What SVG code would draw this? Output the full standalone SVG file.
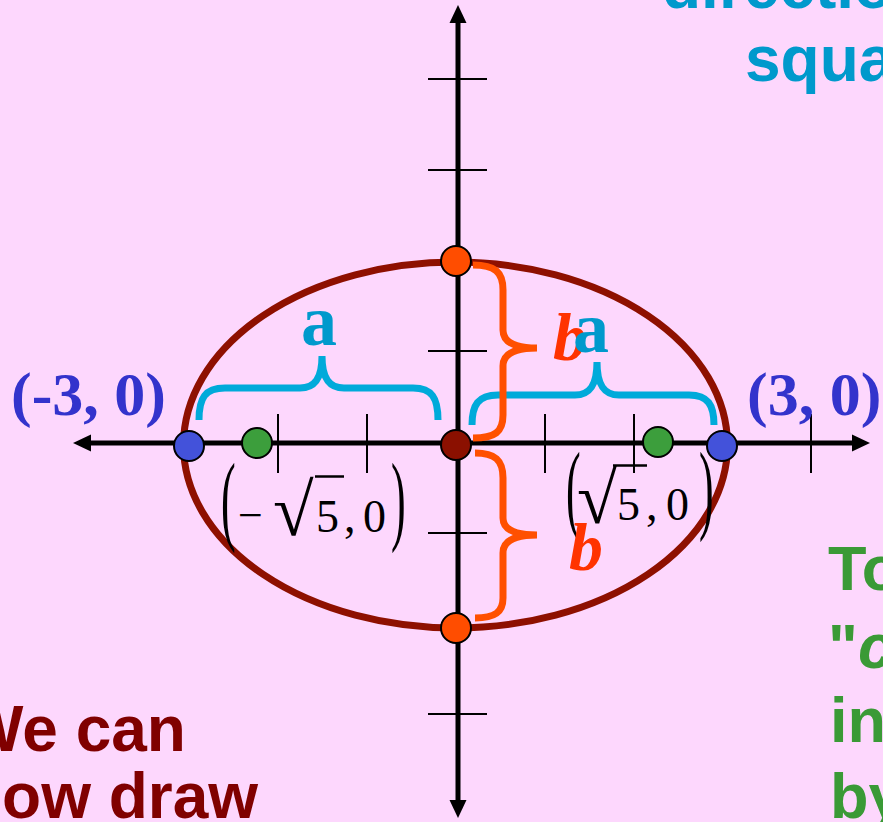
<svg xmlns="http://www.w3.org/2000/svg" width="883" height="822" viewBox="0 0 883 822">
<defs>
<style>
.sans{font-family:"Liberation Sans",Arial,sans-serif;font-weight:bold}
.serif{font-family:"Liberation Serif","Times New Roman",serif}
.tick{stroke:#000;stroke-width:2}
.axis{stroke:#000;stroke-width:5;fill:none}
.dot{stroke:#000;stroke-width:2}
.cb{stroke:#00AADA;stroke-width:7;fill:none;stroke-linecap:butt}
.ob{stroke:#FF5000;stroke-width:7;fill:none}
.math{font-size:46px;fill:#000}
</style>
<marker id="arr" markerUnits="userSpaceOnUse" markerWidth="18" markerHeight="18" refX="1" refY="9" orient="auto-start-reverse" viewBox="0 0 18 18"><path d="M0,0.5 L18,9 L0,17.5 z" fill="#000"/></marker>
</defs>
<rect width="883" height="822" fill="#FDD7FD"/>

<g id="text-top-right" class="sans" font-size="64" fill="#0099CC">
<text x="662" y="8">direction</text>
<text x="745" y="81">squared</text>
</g>

<g id="ellipse"><ellipse cx="455.5" cy="445" rx="272" ry="183" fill="none" stroke="#8E1000" stroke-width="7"/></g>

<g id="connectors">
<line class="axis" x1="90" y1="443" x2="853" y2="443" marker-start="url(#arr)" marker-end="url(#arr)"/>
<line class="axis" x1="458" y1="22" x2="458" y2="801" marker-start="url(#arr)" marker-end="url(#arr)"/>
<g id="ticks">
<line class="tick" x1="278" y1="414" x2="278" y2="473"/>
<line class="tick" x1="367" y1="414" x2="367" y2="473"/>
<line class="tick" x1="545" y1="414" x2="545" y2="473"/>
<line class="tick" x1="634" y1="414" x2="634" y2="473"/>
<line class="tick" x1="811" y1="414" x2="811" y2="473"/>
<line class="tick" x1="428" y1="79" x2="487" y2="79"/>
<line class="tick" x1="428" y1="170" x2="487" y2="170"/>
<line class="tick" x1="428" y1="351" x2="487" y2="351"/>
<line class="tick" x1="428" y1="533" x2="487" y2="533"/>
<line class="tick" x1="428" y1="714" x2="487" y2="714"/>
</g>
</g>

<g id="brace-a-left"><path class="cb" d="M199,420 C199,398 205,388 225,388 L300,388 C315,388 322,378 322,356 C322,378 329,388 344,388 L413,388 C432,388 438,398 438,420"/></g>
<g id="brace-a-right"><path class="cb" d="M472,425 C472,405 478,395 498,395 L575,395 C590,395 597,385 597,362 C597,385 604,395 619,395 L689,395 C708,395 714,405 714,425"/></g>
<g id="brace-b-top"><path class="ob" d="M473,265 C495,265 503,272 503,290 L503,330 C503,342 515,348 537,348 C515,348 503,354 503,366 L503,415 C503,432 495,438 473,438"/></g>
<g id="brace-b-bottom"><path class="ob" d="M475,453 C495,453 503,460 503,478 L503,518 C503,530 515,535 537,535 C515,535 503,541 503,553 L503,598 C503,612 495,618 475,618"/></g>

<g id="label-neg-root5" class="serif math">
<text transform="translate(221,532) scale(1,2.25)" font-size="44">(</text>
<text x="238" y="530" font-size="44">−</text>
<text x="273" y="535" font-size="74">√</text>
<line x1="315" y1="476.5" x2="344" y2="476.5" stroke="#000" stroke-width="2.5"/>
<text y="532"><tspan x="316">5</tspan><tspan x="344">,</tspan><tspan x="363">0</tspan></text>
<text transform="translate(391,532) scale(1,2.25)" font-size="44">)</text>
</g>
<g id="label-pos-root5" class="serif math">
<text transform="translate(566,521) scale(1,2.25)" font-size="44">(</text>
<text x="577" y="523" font-size="73">√</text>
<line x1="613" y1="465.5" x2="647" y2="465.5" stroke="#000" stroke-width="2.5"/>
<text y="520"><tspan x="617">5</tspan><tspan x="646">,</tspan><tspan x="666">0</tspan></text>
<text transform="translate(699,521) scale(1,2.25)" font-size="44">)</text>
</g>

<g id="label-b" class="serif" font-size="68" font-weight="bold" font-style="italic" fill="#FF3300">
<text x="553" y="360">b</text>
<text x="569" y="570">b</text>
</g>
<g id="label-a" class="serif" font-size="72" font-weight="bold" fill="#0099CC">
<text x="301" y="345">a</text>
<text x="573" y="352">a</text>
</g>

<g id="node-center"><circle class="dot" cx="456" cy="445" r="15" fill="#8B1000"/></g>
<g id="node-top"><circle class="dot" cx="456" cy="261" r="15" fill="#FF4D00"/></g>
<g id="node-bottom"><circle class="dot" cx="456" cy="628" r="15" fill="#FF4D00"/></g>
<g id="node-vertex-left"><circle class="dot" cx="189" cy="446" r="15" fill="#4352DA"/></g>
<g id="node-vertex-right"><circle class="dot" cx="722" cy="446" r="15" fill="#4352DA"/></g>
<g id="node-focus-left"><circle class="dot" cx="257" cy="443" r="15" fill="#3C9E3C"/></g>
<g id="node-focus-right"><circle class="dot" cx="658" cy="442" r="15" fill="#3C9E3C"/></g>

<g id="label-vertices" class="serif" font-size="62" font-weight="bold" fill="#3333CC">
<text x="11" y="415">(-3, 0)</text>
<text x="747" y="415">(3, 0)</text>
</g>

<g id="text-bottom-left" class="sans" font-size="64" fill="#800000">
<text x="-37" y="751">We can</text>
<text x="-37" y="818">now draw</text>
</g>

<g id="text-bottom-right" class="sans" font-size="63" fill="#3A9A36">
<text x="828" y="590">To</text>
<text x="828" y="668">"<tspan font-style="italic">c</tspan></text>
<text x="830" y="742">in</text>
<text x="830" y="818">by</text>
</g>
</svg>
